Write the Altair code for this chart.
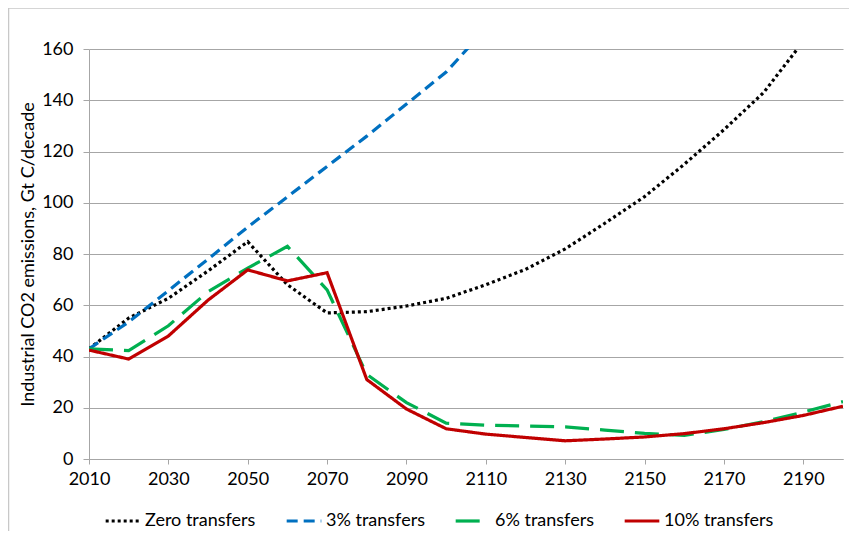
import altair as alt
import pandas as pd

years = list(range(2010, 2201, 10))
zero_transfers = [43, 55, 62.7, 73.4, 84.8, 68, 57, 57.5, 59.7, 62.7, 68, 74, 82, 92, 102.4, 115, 128.5, 143, 163, 185]
three_years = list(range(2010, 2121, 10))
three_transfers = [43, 53.5, 65.7, 78, 90.5, 102.3, 114.2, 126, 138.5, 151, 168, 187]
six_transfers = [43, 42.3, 52, 65.3, 74.5, 83, 66, 33, 22, 14, 13.2, 12.9, 12.5, 11.3, 10, 9.2, 11.5, 14.6, 18.3, 22.4]
ten_transfers = [42.5, 39, 48, 62, 73.8, 69.5, 72.7, 31, 19.5, 11.8, 9.7, 8.4, 7.1, 7.8, 8.6, 9.9, 11.8, 14.2, 17, 20.6]

series_names = ["Zero transfers", "3% transfers", "6% transfers", "10% transfers"]
series_colors = ["#000000", "#0070C0", "#00B050", "#C00000"]
series_dashes = [[3, 3], [11, 6], [24, 11], [1, 0]]
x_ticks = list(range(2010, 2191, 20))
y_ticks = list(range(0, 161, 20))

rows = []
for name, yrs, vals in [
    ("Zero transfers", years, zero_transfers),
    ("3% transfers", three_years, three_transfers),
    ("6% transfers", years, six_transfers),
    ("10% transfers", years, ten_transfers),
]:
    for yr, v in zip(yrs, vals):
        rows.append({"year": yr, "value": v, "series": name, "order": series_names.index(name)})
df = pd.DataFrame(rows)

FONT = "Lato"
FS = 18

lines = alt.Chart(df).mark_line(strokeWidth=3.2, clip=True, strokeCap="butt").encode(
    x=alt.X("year:Q",
            scale=alt.Scale(domain=[2010, 2200], nice=False, zero=False),
            axis=alt.Axis(values=x_ticks, format="d", title=None, grid=False,
                          tickSize=5, tickColor="#A6A6A6", domainColor="#A6A6A6",
                          labelFontSize=FS, labelColor="#000000", labelPadding=6,
                          labelFont=FONT, labelFlush=False)),
    y=alt.Y("value:Q",
            scale=alt.Scale(domain=[0, 160], nice=False),
            axis=alt.Axis(values=y_ticks, title="Industrial CO2 emissions, Gt C/decade",
                          grid=True, gridColor="#A6A6A6", gridWidth=1,
                          tickSize=6, tickColor="#A6A6A6", domainColor="#A6A6A6",
                          labelFontSize=FS, labelColor="#000000", labelPadding=10,
                          labelFont=FONT, titleFont=FONT, titleFontSize=FS,
                          titleFontWeight="normal", titleColor="#000000", titlePadding=4)),
    color=alt.Color("series:N",
                    scale=alt.Scale(domain=series_names, range=series_colors),
                    legend=alt.Legend(title=None, orient="none", legendX=15, legendY=453,
                                      direction="horizontal", symbolType="stroke",
                                      symbolSize=1200, symbolStrokeWidth=3.2,
                                      labelFontSize=FS, labelFont=FONT, labelColor="#000000",
                                      labelOffset=3, columnPadding=24)),
    strokeDash=alt.StrokeDash("series:N",
                              scale=alt.Scale(domain=series_names, range=series_dashes),
                              legend=None),
    detail="series:N",
    order="order:Q",
)

frame = alt.Chart(pd.DataFrame({"a": [0]})).mark_rect(
    fill=None, stroke="#C8C8C8", strokeWidth=1.5, clip=False
).encode(x=alt.value(-80.5), x2=alt.value(900), y=alt.value(-41), y2=alt.value(520))

chart = alt.layer(frame, lines).properties(
    width=754, height=410,
    padding={"left": 81, "top": 41, "right": 6, "bottom": 72},
    autosize=alt.AutoSizeParams(type="none"),
).configure_view(stroke=None)

chart.save("out.html", embed_options={"renderer": "svg", "actions": False})
